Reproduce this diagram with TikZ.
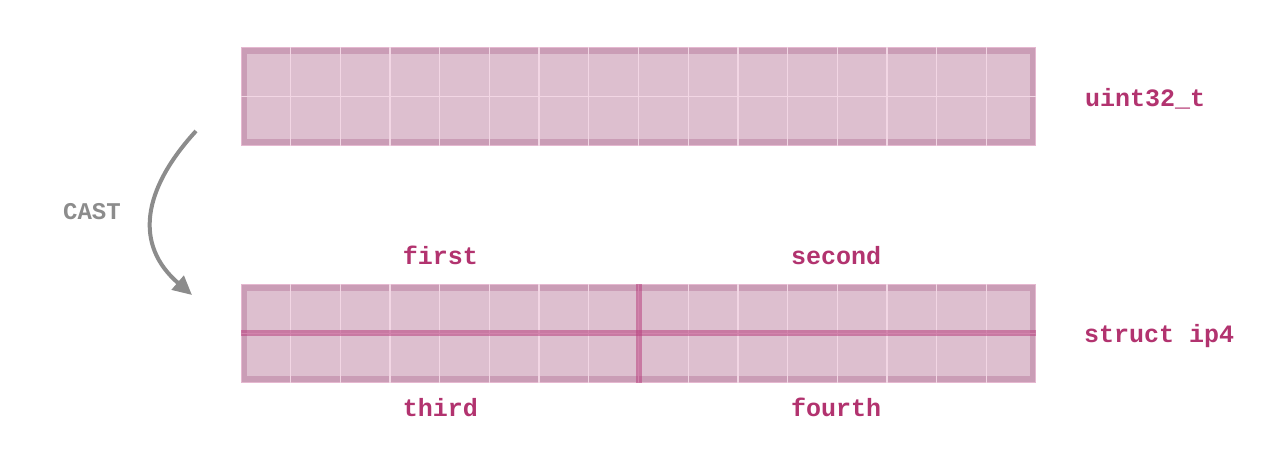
\documentclass[tikz,border=0pt]{standalone}
\usepackage{fontspec}
\setmonofont{Liberation Mono}
\usetikzlibrary{arrows.meta}
\definecolor{outerpink}{HTML}{E5B8D0}
\definecolor{innerpink}{HTML}{DDBFCF}
\definecolor{bandpink}{HTML}{CA9DB6}
\definecolor{gridline}{HTML}{F2D6E4}
\definecolor{divider}{HTML}{B8407E}
\definecolor{labelmag}{HTML}{B2336F}
\definecolor{castgray}{HTML}{8C8C8C}
\tikzset{
  lbl/.style={font=\fontsize{25}{30}\selectfont\ttfamily\bfseries, text=labelmag, anchor=base, inner sep=0pt},
  castlbl/.style={font=\fontsize{24}{30}\selectfont\ttfamily\bfseries, text=castgray, anchor=base, inner sep=0pt},
  gridln/.style={draw=gridline, line width=1.3pt},
  divln/.style={draw=divider, draw opacity=0.55, line width=6pt},
  castarrow/.style={draw=castgray, line width=4pt, -{Triangle[length=19pt,width=18pt]}},
}
\newcommand{\membox}[2]{%
  \fill[outerpink] (241,#1) rectangle (1036,#2);
  \fill[innerpink, draw=bandpink, line width=5.5pt] (244.5,#1+4) rectangle (1032.5,#2-4);
  \foreach \k in {1,...,15} {
    \draw[gridln] ({241+\k*49.6875},#1) -- ({241+\k*49.6875},#2);
  }
  \draw[gridln] (241,{(#1+#2)/2}) -- (1036,{(#1+#2)/2});
}
\begin{document}
\begin{tikzpicture}[x=1pt,y=-1pt]
\useasboundingbox (0,0) rectangle (1276,462);
% top box: uint32_t
\membox{47}{146}
% bottom box: struct ip4
\membox{284}{383}
\draw[divln] (241,333) -- (1036,333);
\draw[divln] (638.5,284) -- (638.5,383);
% labels
\node[lbl] (u32) at (1145,106.5) {uint32\_t};
\node[lbl] (sip4) at (1159,342.5) {struct ip4};
\node[lbl] (first) at (440.5,264.5) {first};
\node[lbl] (second) at (836,264.5) {second};
\node[lbl] (third) at (440.5,416.5) {third};
\node[lbl] (fourth) at (836,416.5) {fourth};
\node[castlbl] (cast) at (92,220) {CAST};
% cast arrow
\coordinate (cstart) at (196,131);
\coordinate (cend) at (192,295);
\draw[castarrow] (cstart) .. controls (142,190) and (134,245) .. (cend);
\end{tikzpicture}
\end{document}
